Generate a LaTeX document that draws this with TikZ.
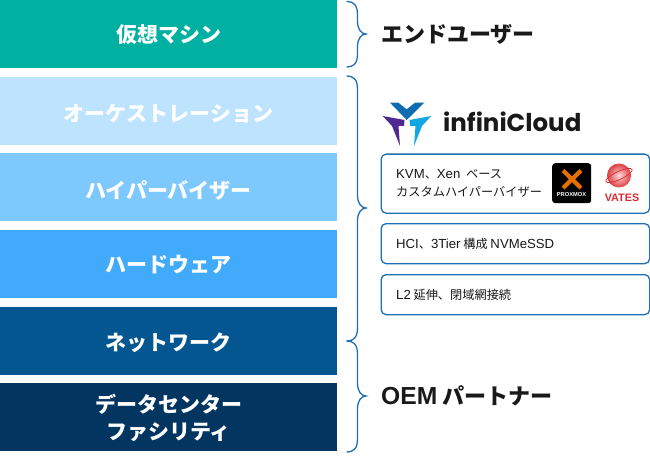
\documentclass[tikz,border=0pt]{standalone}
\usepackage{fontspec}
\setmainfont{Noto Sans CJK JP}
\newfontfamily\latinf[Scale=1.08]{Liberation Sans}
\newfontfamily\plainl{Liberation Sans}
\newfontfamily\logof{Poppins}
\newfontfamily\medl[Scale=1.12]{Liberation Sans}
\definecolor{bracec}{HTML}{1F6FB5}
\definecolor{rowa}{HTML}{00B0A0}
\definecolor{rowb}{HTML}{BEE3FE}
\definecolor{rowc}{HTML}{7DC8FC}
\definecolor{rowd}{HTML}{42AAFA}
\definecolor{rowe}{HTML}{03568F}
\definecolor{rowf}{HTML}{023560}
\definecolor{boxc}{HTML}{1F6FB5}
\definecolor{logoa}{HTML}{0F6CB0}
\definecolor{logob}{HTML}{4F2A92}
\definecolor{logoc}{HTML}{12A6E3}
\definecolor{pxo}{HTML}{E57000}
\definecolor{vatesr}{HTML}{D92B2F}
\tikzset{
  x=1pt,y=-1pt,
  rowbox/.style={anchor=north west,minimum width=337pt,minimum height=68pt,inner sep=0pt,outer sep=0pt,text=white,font=\fontsize{21}{27}\selectfont\bfseries,align=center},
  sidelabel/.style={anchor=west,inner sep=0pt,font=\fontsize{22}{26}\selectfont\bfseries,text=black!90},
  infobox/.style={anchor=north west,draw=boxc,line width=1.3pt,rounded corners=5pt,fill=white,minimum width=268.5pt,inner sep=0pt},
  infotext/.style={anchor=west,inner sep=0pt,font=\fontsize{12.2}{18.5}\selectfont,align=left,text=black!90},
  bracel/.style={draw=bracec,line width=1.3pt,line cap=round,fill=none},
}
\newcommand{\rowt}[2]{\raisebox{-#1pt}[17pt][4pt]{#2}}
\newcommand{\bracepath}[3]{% top, mid, bottom
  \draw[bracel] (347,#1) .. controls (353,#1) and (357.5,{#1+3}) .. (357.5,{#1+13})
   -- (357.5,{#2-13}) .. controls (357.5,{#2-5}) and (361,#2) .. (366,#2)
   .. controls (361,#2) and (357.5,{#2+5}) .. (357.5,{#2+13})
   -- (357.5,{#3-13}) .. controls (357.5,{#3-3}) and (353,#3) .. (347,#3);}
\begin{document}
\begin{tikzpicture}
\useasboundingbox (0,0) rectangle (650,457);
\node[rowbox,fill=rowa] (vm) at (0,0) {\rowt{2}{仮想マシン}};
\node[rowbox,fill=rowb] (orch) at (0,77) {\rowt{4.5}{オーケストレーション}};
\node[rowbox,fill=rowc] (hyp) at (0,153) {\rowt{5}{ハイパーバイザー}};
\node[rowbox,fill=rowd] (hw) at (0,230) {\rowt{2}{ハードウェア}};
\node[rowbox,fill=rowe] (net) at (0,307) {\rowt{2.5}{ネットワーク}};
\node[rowbox,fill=rowf] (dc) at (0,383) {\rowt{2.5}{データセンター}\\\rowt{2}{ファシリティ}};
\bracepath{1.5}{34}{67}
\bracepath{76}{208}{341}
\bracepath{341}{396}{452}
\node[sidelabel] (eu) at (381,34) {エンドユーザー};
\node[sidelabel] (oem) at (381,396) {{\medl OEM} パートナー};
% logo
\fill[logoa] (390,102.7) -- (398.3,102.7) -- (406.7,109.3) -- (415,102.7) -- (424.3,102.7) -- (406.7,120) -- cycle;
\fill[logob] (382.7,116) -- (404.5,120) -- (404,126) -- (398.5,126) -- (400,146) -- (392,126) -- cycle;
\fill[logoc] (431.3,116) -- (409.5,120) -- (410,126) -- (415.5,126) -- (414,146) -- (422,126) -- cycle;
\node[anchor=west,inner sep=0pt,font=\logof\fontsize{24.5}{26}\selectfont\bfseries,text=black!90] (ic) at (443,122) {infiniCloud};
% info boxes
\node[infobox,minimum height=59pt] (b1) at (380.5,153.5) {};
\node[infobox,minimum height=40pt] (b2) at (380.5,223) {};
\node[infobox,minimum height=40pt] (b3) at (380.5,274) {};
\node[infotext] (t1) at (396,183.5) {{\latinf KVM}、{\latinf Xen}\hspace{3pt} ベース\\カスタムハイパーバイザー};
\node[infotext] (t2) at (396,243.5) {{\latinf HCI}、{\latinf 3Tier} 構成 {\latinf NVMeSSD}};
\node[infotext] (t3) at (396,294.5) {{\latinf L2} 延伸、閉域網接続};
% proxmox
\node[anchor=north west,fill=black,rounded corners=3pt,minimum width=39pt,minimum height=40pt,inner sep=0pt] (px) at (552,163) {};
\draw[draw=pxo,line width=4.2pt] (563,170.5) -- (581,188) (581,170.5) -- (563,188);
\node[font=\plainl\fontsize{5.7}{6}\selectfont\bfseries,text=white,inner sep=0pt] (pxt) at (571.5,194.5) {PROXMOX};
% vates
\shade[inner color=red!15,outer color=vatesr!90] (619,175.5) circle (12);
\draw[vatesr,line width=0.7pt,rotate around={25:(619,175.5)}] (619,175.5) ellipse (14.5 and 4);
\node[font=\plainl\fontsize{10.8}{11}\selectfont\bfseries,text=vatesr,inner sep=0pt] (vt) at (622,197.5) {VATES};
\end{tikzpicture}
\end{document}
